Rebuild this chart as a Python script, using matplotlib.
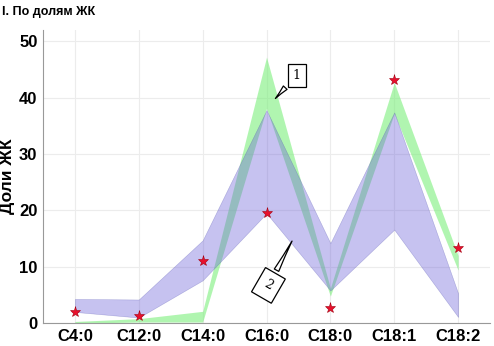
import matplotlib
matplotlib.use("Agg")
import matplotlib.pyplot as plt
import numpy as np

categories = ["C4:0", "C12:0", "C14:0", "C16:0", "C18:0", "C18:1", "C18:2"]
blue_low = [2.0, 1.0, 7.6, 19.5, 5.8, 16.6, 1.1]
blue_high = [4.3, 4.2, 14.7, 37.8, 14.2, 37.4, 5.3]
green_low = [0.0, 0.2, 0.2, 38.1, 4.8, 37.2, 9.4]
green_high = [0.3, 0.8, 2.1, 47.2, 6.2, 42.7, 12.0]
stars = [1.9, 1.2, 11.0, 19.5, 2.7, 43.1, 13.3]

plt.rcParams["font.family"] = ["Liberation Sans", "DejaVu Sans"]

fig = plt.figure(figsize=(4.94, 3.46), dpi=100)
ax = fig.add_axes([0.087, 0.066, 0.905, 0.847])
x = np.arange(len(categories))

ax.fill_between(x, green_low, green_high, color="#70ee70", alpha=0.55, lw=0, zorder=2)
ax.fill_between(x, blue_low, blue_high, facecolor="#6a5fd8", alpha=0.38,
                edgecolor="#5050b0", lw=0.4, zorder=3)
ax.plot(x, stars, ls="none", marker="*", ms=8, color="#e8102c",
        mec="#a00010", mew=0.4, zorder=5)

ax.set_xlim(-0.5, 6.5)
ax.set_ylim(0, 52)
ax.set_xticks(x)
ax.set_xticklabels(categories, fontsize=12, fontweight="bold")
ax.set_yticks([0, 10, 20, 30, 40, 50])
ax.set_yticklabels(["0", "10", "20", "30", "40", "50"], fontsize=12, fontweight="bold")
ax.tick_params(length=0, pad=4)
ax.grid(color="#ececec", lw=0.8, zorder=0)
ax.set_axisbelow(True)
for s in ["top", "right"]:
    ax.spines[s].set_visible(False)
for s in ["left", "bottom"]:
    ax.spines[s].set_color("#999999")
    ax.spines[s].set_linewidth(0.8)
ax.set_ylabel("Доли ЖК", fontsize=12.5, fontweight="bold")
ax.yaxis.set_label_coords(-0.063, 0.5)

fig.text(0.004, 0.965, "I. По долям ЖК", fontsize=9, fontweight="bold",
         ha="left", va="center", family=["Liberation Sans Narrow", "Liberation Sans"])

ax.annotate("1", xy=(3.11, 39.5), xytext=(3.47, 44.0), fontsize=9, family="DejaVu Serif",
            ha="center", va="center", zorder=6,
            bbox=dict(boxstyle="square,pad=0.4", fc="white", ec="black", lw=0.9),
            arrowprops=dict(arrowstyle="wedge,tail_width=0.4,shrink_factor=0.4",
                            fc="white", ec="black", lw=0.9))
ax.annotate("2", xy=(3.42, 15.0), xytext=(3.03, 6.7), fontsize=9, family="DejaVu Serif",
            ha="center", va="center", rotation=-30, zorder=6,
            bbox=dict(boxstyle="square,pad=0.6", fc="white", ec="black", lw=0.9),
            arrowprops=dict(arrowstyle="wedge,tail_width=0.4,shrink_factor=0.4",
                            fc="white", ec="black", lw=0.9))

fig.savefig("out.png", dpi=100)
